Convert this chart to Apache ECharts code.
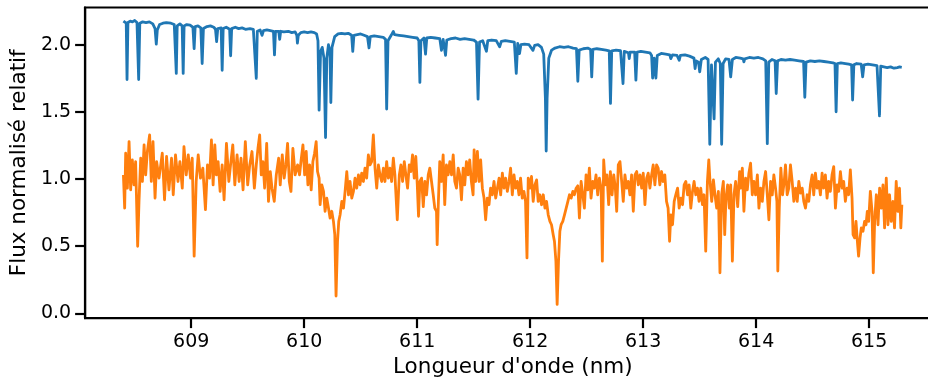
<!DOCTYPE html>
<html>
<head>
<meta charset="utf-8">
<script src="https://cdn.jsdelivr.net/npm/echarts@6/dist/echarts.min.js"></script>
<style>
html,body{margin:0;padding:0;background:#fff;overflow:hidden;width:928px;height:383px;}
#chart{width:941px;height:383px;}
</style>
</head>
<body>
<div id="chart"></div>
<script>
// Tick values
const xTicks = [609, 610, 611, 612, 613, 614, 615];
const yTicks = [0, 0.5, 1.0, 1.5, 2.0];

// Blue spectrum: [wavelength (nm), relative normalised flux]
const blueSpectrum = [
[608.400,2.175],[608.405,2.18],[608.415,2.17],[608.425,2.16],[608.432,1.741],[608.440,2.165],[608.46,2.175],[608.48,2.17],[608.50,2.18],[608.52,2.165],[608.535,1.741],[608.545,2.16],[608.57,2.17],[608.60,2.165],[608.63,2.17],[608.66,2.155],[608.68,2.12],[608.691,2.004],[608.70,2.11],[608.72,2.15],[608.75,2.16],[608.78,2.165],[608.82,2.16],[608.85,2.15],[608.860,2.14],[608.868,1.786],[608.876,2.14],[608.90,2.155],[608.92,2.14],[608.929,1.786],[608.937,2.14],[608.96,2.15],[608.99,2.145],[609.015,2.13],[609.026,1.971],[609.035,2.135],[609.06,2.14],[609.085,2.125],[609.097,1.860],[609.108,2.12],[609.14,2.135],[609.17,2.14],[609.20,2.13],[609.215,2.115],[609.225,2.023],[609.235,2.12],[609.265,2.125],[609.274,1.810],[609.283,2.12],[609.31,2.13],[609.34,2.115],[609.349,1.918],[609.358,2.12],[609.39,2.13],[609.42,2.12],[609.45,2.125],[609.48,2.115],[609.52,2.12],[609.55,2.115],[609.567,2.105],[609.576,1.749],[609.585,2.10],[609.61,2.11],[609.627,2.07],[609.64,2.105],[609.67,2.11],[609.70,2.105],[609.728,2.10],[609.737,1.924],[609.746,2.10],[609.775,2.10],[609.783,2.04],[609.792,2.10],[609.82,2.095],[609.86,2.10],[609.89,2.09],[609.92,2.095],[609.935,2.07],[609.940,2.012],[609.948,2.07],[609.97,2.09],[610.00,2.095],[610.03,2.09],[610.06,2.095],[610.09,2.09],[610.11,2.08],[610.122,2.03],[610.132,1.513],[610.145,1.95],[610.16,1.98],[610.175,1.90],[610.189,1.309],[610.20,1.90],[610.215,2.00],[610.228,1.95],[610.236,1.570],[610.246,1.98],[610.27,2.06],[610.30,2.08],[610.33,2.085],[610.36,2.08],[610.39,2.085],[610.42,2.07],[610.430,1.951],[610.44,2.07],[610.47,2.075],[610.50,2.08],[610.53,2.07],[610.56,2.06],[610.574,1.976],[610.585,2.06],[610.62,2.065],[610.66,2.06],[610.70,2.055],[610.72,2.04],[610.730,1.521],[610.742,2.03],[610.77,2.07],[610.789,2.099],[610.80,2.075],[610.84,2.07],[610.88,2.065],[610.92,2.06],[610.96,2.055],[611.00,2.05],[611.015,2.03],[611.024,1.719],[611.033,2.03],[611.06,2.05],[611.074,1.930],[611.085,2.05],[611.12,2.055],[611.16,2.05],[611.20,2.045],[611.215,1.958],[611.23,2.04],[611.251,1.921],[611.262,2.035],[611.30,2.045],[611.34,2.05],[611.38,2.04],[611.42,2.045],[611.46,2.04],[611.50,2.035],[611.525,2.02],[611.539,1.595],[611.552,2.02],[611.58,2.03],[611.613,1.951],[611.625,2.03],[611.66,2.035],[611.70,2.03],[611.730,1.984],[611.745,2.025],[611.78,2.03],[611.82,2.025],[611.86,2.02],[611.877,1.786],[611.89,2.01],[611.906,1.934],[611.918,2.0],[611.95,2.005],[611.99,2.0],[612.025,1.958],[612.04,1.995],[612.07,2.0],[612.10,1.98],[612.12,1.93],[612.135,1.60],[612.142,1.209],[612.150,1.60],[612.165,1.90],[612.19,1.96],[612.22,1.975],[612.26,1.985],[612.30,1.98],[612.34,1.985],[612.38,1.975],[612.41,1.97],[612.422,1.728],[612.434,1.96],[612.47,1.97],[612.51,1.975],[612.535,1.965],[612.545,1.761],[612.555,1.965],[612.59,1.97],[612.63,1.965],[612.67,1.96],[612.70,1.955],[612.711,1.563],[612.722,1.955],[612.76,1.96],[612.80,1.955],[612.822,1.711],[612.833,1.95],[612.87,1.94],[612.877,1.897],[612.885,1.945],[612.925,1.945],[612.936,1.736],[612.947,1.945],[612.98,1.95],[613.02,1.945],[613.06,1.94],[613.075,1.92],[613.084,1.752],[613.098,1.90],[613.113,1.752],[613.125,1.92],[613.16,1.935],[613.20,1.93],[613.235,1.925],[613.245,1.897],[613.26,1.925],[613.30,1.92],[613.319,1.884],[613.33,1.92],[613.37,1.925],[613.41,1.915],[613.45,1.90],[613.460,1.823],[613.47,1.88],[613.49,1.87],[613.501,1.798],[613.515,1.89],[613.55,1.905],[613.575,1.89],[613.590,1.259],[613.605,1.85],[613.617,1.86],[613.628,1.448],[613.64,1.87],[613.665,1.895],[613.683,1.86],[613.695,1.259],[613.708,1.86],[613.73,1.895],[613.76,1.89],[613.775,1.760],[613.79,1.89],[613.82,1.905],[613.86,1.90],[613.885,1.895],[613.892,1.872],[613.90,1.895],[613.94,1.905],[613.98,1.90],[614.02,1.905],[614.06,1.895],[614.085,1.88],[614.099,1.263],[614.112,1.87],[614.14,1.89],[614.168,1.88],[614.178,1.637],[614.19,1.88],[614.22,1.89],[614.26,1.885],[614.30,1.89],[614.34,1.885],[614.38,1.88],[614.42,1.875],[614.431,1.609],[614.442,1.87],[614.48,1.88],[614.52,1.875],[614.56,1.88],[614.60,1.875],[614.64,1.87],[614.68,1.865],[614.698,1.86],[614.708,1.501],[614.719,1.86],[614.75,1.865],[614.79,1.86],[614.82,1.855],[614.845,1.85],[614.854,1.588],[614.865,1.85],[614.89,1.86],[614.93,1.855],[614.943,1.761],[614.955,1.85],[614.99,1.855],[615.03,1.85],[615.07,1.845],[615.082,1.84],[615.092,1.470],[615.103,1.84],[615.13,1.835],[615.16,1.83],[615.19,1.835],[615.22,1.825],[615.25,1.83],[615.27,1.835],[615.289,1.832]
];

// Orange spectrum: [wavelength (nm), relative normalised flux]
const orangeSpectrum = [
[608.400,1.03],[608.411,0.784],[608.420,1.192],[608.435,0.932],[608.450,1.279],[608.464,0.92],[608.479,1.142],[608.494,0.957],[608.508,1.13],[608.526,0.50],[608.538,0.834],[608.553,1.155],[608.568,0.982],[608.583,1.254],[608.597,1.031],[608.612,1.205],[608.632,1.328],[608.647,0.982],[608.662,1.279],[608.680,0.858],[608.694,1.13],[608.715,1.007],[608.744,1.192],[608.764,0.846],[608.782,1.168],[608.803,0.92],[608.826,1.155],[608.841,0.883],[608.861,1.18],[608.883,0.982],[608.900,1.13],[608.921,0.932],[608.936,1.242],[608.956,1.031],[608.974,1.18],[608.994,1.007],[609.009,1.155],[609.026,0.426],[609.044,0.982],[609.062,1.18],[609.082,1.007],[609.103,1.081],[609.126,0.772],[609.144,1.105],[609.162,1.007],[609.179,1.291],[609.194,0.957],[609.209,1.254],[609.223,1.031],[609.238,1.13],[609.256,0.908],[609.274,1.105],[609.291,0.846],[609.312,1.266],[609.333,0.982],[609.350,1.118],[609.368,1.254],[609.386,0.957],[609.406,1.18],[609.424,0.982],[609.441,1.155],[609.459,0.92],[609.479,1.279],[609.500,0.957],[609.518,1.105],[609.538,1.205],[609.559,0.932],[609.576,1.105],[609.591,1.229],[609.606,1.328],[609.620,1.031],[609.635,1.13],[609.650,0.932],[609.668,1.266],[609.684,0.834],[609.700,1.056],[609.715,0.932],[609.735,0.834],[609.753,1.031],[609.774,1.155],[609.788,0.957],[609.806,1.18],[609.823,1.007],[609.838,1.105],[609.853,1.266],[609.868,0.982],[609.883,0.908],[609.900,1.229],[609.920,1.031],[609.942,1.105],[609.959,1.031],[609.973,1.142],[609.989,1.254],[610.004,1.031],[610.018,1.205],[610.033,0.957],[610.048,1.105],[610.062,0.92],[610.077,1.13],[610.092,1.192],[610.106,1.279],[610.118,1.056],[610.132,1.007],[610.141,0.809],[610.156,0.957],[610.171,0.908],[610.185,0.76],[610.200,0.858],[610.215,0.784],[610.229,0.71],[610.244,0.76],[610.259,0.685],[610.271,0.586],[610.282,0.129],[610.295,0.537],[610.306,0.685],[610.318,0.734],[610.333,0.834],[610.348,0.784],[610.362,0.908],[610.377,1.056],[610.392,0.883],[610.406,0.982],[610.421,0.858],[610.436,0.908],[610.450,1.007],[610.465,0.932],[610.480,1.031],[610.494,0.957],[610.509,1.044],[610.524,0.982],[610.538,1.081],[610.553,1.007],[610.568,1.18],[610.583,1.105],[610.597,1.13],[610.612,1.328],[610.627,1.081],[610.642,0.932],[610.657,1.105],[610.671,1.031],[610.686,0.982],[610.701,1.081],[610.715,0.982],[610.730,1.13],[610.745,1.007],[610.759,1.081],[610.774,0.982],[610.789,1.155],[610.803,1.031],[610.824,0.697],[610.842,1.031],[610.856,1.105],[610.871,0.982],[610.886,1.13],[610.900,1.031],[610.915,0.932],[610.930,1.105],[610.944,1.056],[610.959,1.18],[610.974,1.007],[610.988,1.168],[611.001,0.957],[611.012,0.723],[611.024,0.982],[611.039,1.007],[611.054,0.795],[611.068,0.982],[611.083,0.883],[611.098,1.031],[611.112,1.081],[611.127,0.982],[611.142,0.883],[611.156,0.784],[611.171,0.76],[611.177,0.512],[611.186,0.784],[611.200,1.13],[611.215,0.982],[611.230,1.18],[611.244,0.809],[611.259,1.105],[611.274,1.031],[611.289,1.13],[611.304,1.031],[611.319,1.18],[611.333,0.982],[611.348,0.932],[611.363,1.081],[611.377,1.031],[611.392,0.846],[611.407,1.081],[611.421,0.957],[611.436,1.13],[611.451,1.031],[611.465,1.142],[611.480,0.982],[611.495,0.883],[611.504,1.217],[611.518,0.982],[611.533,1.205],[611.548,0.982],[611.562,1.142],[611.577,0.932],[611.592,0.858],[611.606,0.697],[611.621,0.858],[611.636,0.809],[611.650,0.932],[611.665,0.883],[611.680,0.982],[611.695,0.858],[611.710,0.932],[611.725,1.007],[611.739,0.883],[611.754,1.044],[611.769,0.932],[611.783,1.007],[611.798,0.908],[611.813,0.982],[611.827,1.081],[611.842,0.883],[611.857,1.031],[611.871,0.932],[611.886,0.982],[611.901,0.883],[611.915,1.007],[611.930,0.858],[611.945,0.908],[611.959,0.834],[611.972,0.413],[611.983,1.007],[611.998,0.932],[612.012,1.019],[612.027,0.834],[612.042,0.957],[612.057,0.994],[612.071,0.834],[612.086,0.883],[612.101,0.809],[612.116,0.883],[612.131,0.784],[612.145,0.834],[612.160,0.734],[612.175,0.685],[612.189,0.66],[612.204,0.586],[612.215,0.537],[612.228,0.389],[612.239,0.067],[612.251,0.389],[612.263,0.611],[612.274,0.66],[612.289,0.685],[612.304,0.734],[612.319,0.784],[612.334,0.834],[612.348,0.883],[612.363,0.858],[612.378,0.908],[612.392,0.883],[612.407,0.932],[612.422,0.95],[612.436,0.71],[612.451,0.982],[612.466,0.883],[612.480,0.784],[612.495,1.031],[612.510,0.92],[612.524,1.081],[612.539,0.858],[612.554,0.982],[612.568,0.932],[612.583,1.031],[612.598,0.883],[612.613,1.007],[612.628,0.932],[612.639,0.389],[612.651,1.142],[612.665,0.957],[612.680,1.031],[612.695,0.809],[612.710,1.056],[612.725,0.883],[612.740,1.031],[612.754,0.932],[612.766,0.76],[612.780,1.105],[612.795,1.13],[612.810,0.982],[612.824,0.834],[612.839,1.031],[612.854,0.932],[612.868,0.982],[612.883,0.883],[612.898,1.031],[612.913,0.76],[612.928,1.031],[612.943,1.056],[612.957,0.957],[612.972,1.031],[612.987,0.932],[613.001,1.044],[613.016,0.809],[613.031,1.007],[613.045,1.044],[613.060,0.932],[613.075,1.031],[613.089,1.105],[613.104,0.957],[613.119,1.105],[613.133,1.081],[613.148,0.957],[613.163,1.056],[613.177,0.982],[613.192,1.031],[613.207,0.834],[613.221,0.784],[613.234,0.537],[613.245,0.734],[613.260,0.66],[613.275,0.834],[613.289,0.883],[613.305,0.932],[613.319,0.784],[613.334,0.858],[613.349,0.809],[613.363,0.957],[613.378,0.982],[613.393,0.883],[613.407,0.957],[613.422,0.784],[613.437,0.908],[613.451,0.982],[613.466,0.883],[613.481,0.932],[613.495,0.834],[613.510,0.932],[613.525,0.809],[613.539,0.883],[613.554,0.463],[613.569,0.982],[613.581,1.142],[613.592,0.982],[613.607,0.834],[613.622,0.994],[613.636,0.883],[613.651,0.784],[613.666,0.908],[613.680,0.302],[613.695,0.883],[613.710,0.982],[613.722,0.586],[613.733,0.858],[613.748,0.957],[613.763,0.784],[613.775,0.957],[613.790,0.389],[613.804,0.883],[613.819,0.982],[613.837,0.795],[613.854,1.056],[613.863,0.932],[613.878,1.081],[613.892,0.76],[613.907,1.007],[613.922,0.92],[613.936,1.044],[613.951,1.118],[613.966,0.883],[613.980,0.982],[613.995,0.883],[614.011,1.031],[614.025,0.784],[614.040,0.932],[614.055,0.834],[614.069,0.982],[614.084,1.056],[614.099,0.883],[614.113,0.697],[614.128,0.982],[614.143,0.883],[614.157,1.031],[614.172,0.932],[614.184,0.834],[614.192,0.315],[614.205,0.784],[614.219,1.081],[614.234,0.883],[614.249,0.982],[614.260,1.105],[614.275,0.883],[614.289,0.932],[614.304,1.105],[614.319,0.982],[614.334,0.834],[614.349,0.932],[614.364,0.834],[614.378,0.982],[614.393,0.895],[614.408,0.932],[614.422,0.834],[614.437,0.784],[614.452,0.883],[614.466,0.834],[614.481,0.957],[614.496,1.031],[614.510,0.883],[614.525,1.044],[614.540,0.932],[614.554,0.982],[614.569,0.883],[614.584,1.044],[614.598,0.932],[614.613,1.031],[614.628,0.858],[614.642,0.982],[614.657,0.908],[614.672,1.031],[614.687,1.093],[614.702,0.784],[614.717,0.957],[614.731,0.908],[614.746,1.056],[614.761,0.932],[614.775,0.982],[614.790,0.834],[614.805,0.932],[614.819,0.883],[614.834,1.068],[614.849,0.858],[614.858,0.586],[614.872,0.562],[614.884,0.685],[614.896,0.537],[614.907,0.426],[614.920,0.562],[614.931,0.636],[614.946,0.611],[614.960,0.685],[614.973,0.66],[614.984,0.76],[614.996,0.685],[615.011,0.908],[615.026,0.76],[615.037,0.302],[615.049,0.685],[615.064,0.883],[615.079,0.66],[615.093,0.932],[615.108,0.784],[615.123,0.957],[615.137,0.636],[615.152,1.007],[615.167,0.66],[615.181,0.883],[615.196,0.685],[615.211,0.834],[615.225,0.636],[615.240,0.982],[615.255,0.76],[615.269,0.932],[615.281,0.636],[615.290,0.809]
];

const FONT = 'DejaVu Sans';
const chart = echarts.init(document.getElementById('chart'), null, {renderer: 'canvas'});
chart.setOption({
  animation: false,
  backgroundColor: '#ffffff',
  grid: {
    left: 82, top: 7.5, right: 0.5, bottom: 62.3,
    show: true, borderColor: '#000', borderWidth: 2.2, backgroundColor: 'transparent'
  },
  xAxis: {
    type: 'value',
    min: 608.061, max: 615.632,
    name: "Longueur d'onde (nm)",
    nameLocation: 'middle',
    nameGap: 36,
    nameTextStyle: {fontFamily: FONT, fontSize: 21.5, color: '#000'},
    axisLine: {show: true, onZero: false, lineStyle: {color: '#000', width: 2.2}},
    axisTick: {show: true, inside: false, length: 10, lineStyle: {color: '#000', width: 2.2}, customValues: xTicks},
    axisLabel: {fontFamily: FONT, fontSize: 19, color: '#000', margin: 14, customValues: xTicks,
                formatter: v => String(Math.round(v))},
    splitLine: {show: false}
  },
  yAxis: {
    type: 'value',
    min: -0.035, max: 2.277,
    name: 'Flux normalisé relatif',
    nameLocation: 'middle',
    nameGap: 50,
    nameTextStyle: {fontFamily: FONT, fontSize: 21.5, color: '#000'},
    axisLine: {show: true, onZero: false, lineStyle: {color: '#000', width: 2.2}},
    axisTick: {show: true, inside: false, length: 10, lineStyle: {color: '#000', width: 2.2}, customValues: yTicks},
    axisLabel: {fontFamily: FONT, fontSize: 19, color: '#000', margin: 14, customValues: yTicks,
                formatter: v => v.toFixed(1)},
    splitLine: {show: false}
  },
  series: [
    {
      type: 'line', data: blueSpectrum, showSymbol: false, symbol: 'none',
      lineStyle: {color: '#1f77b4', width: 2.8, join: 'round'},
      z: 2
    },
    {
      type: 'line', data: orangeSpectrum, showSymbol: false, symbol: 'none',
      lineStyle: {color: '#ff7f0e', width: 2.8, join: 'round'},
      z: 3
    }
  ]
});
</script>
</body>
</html>
